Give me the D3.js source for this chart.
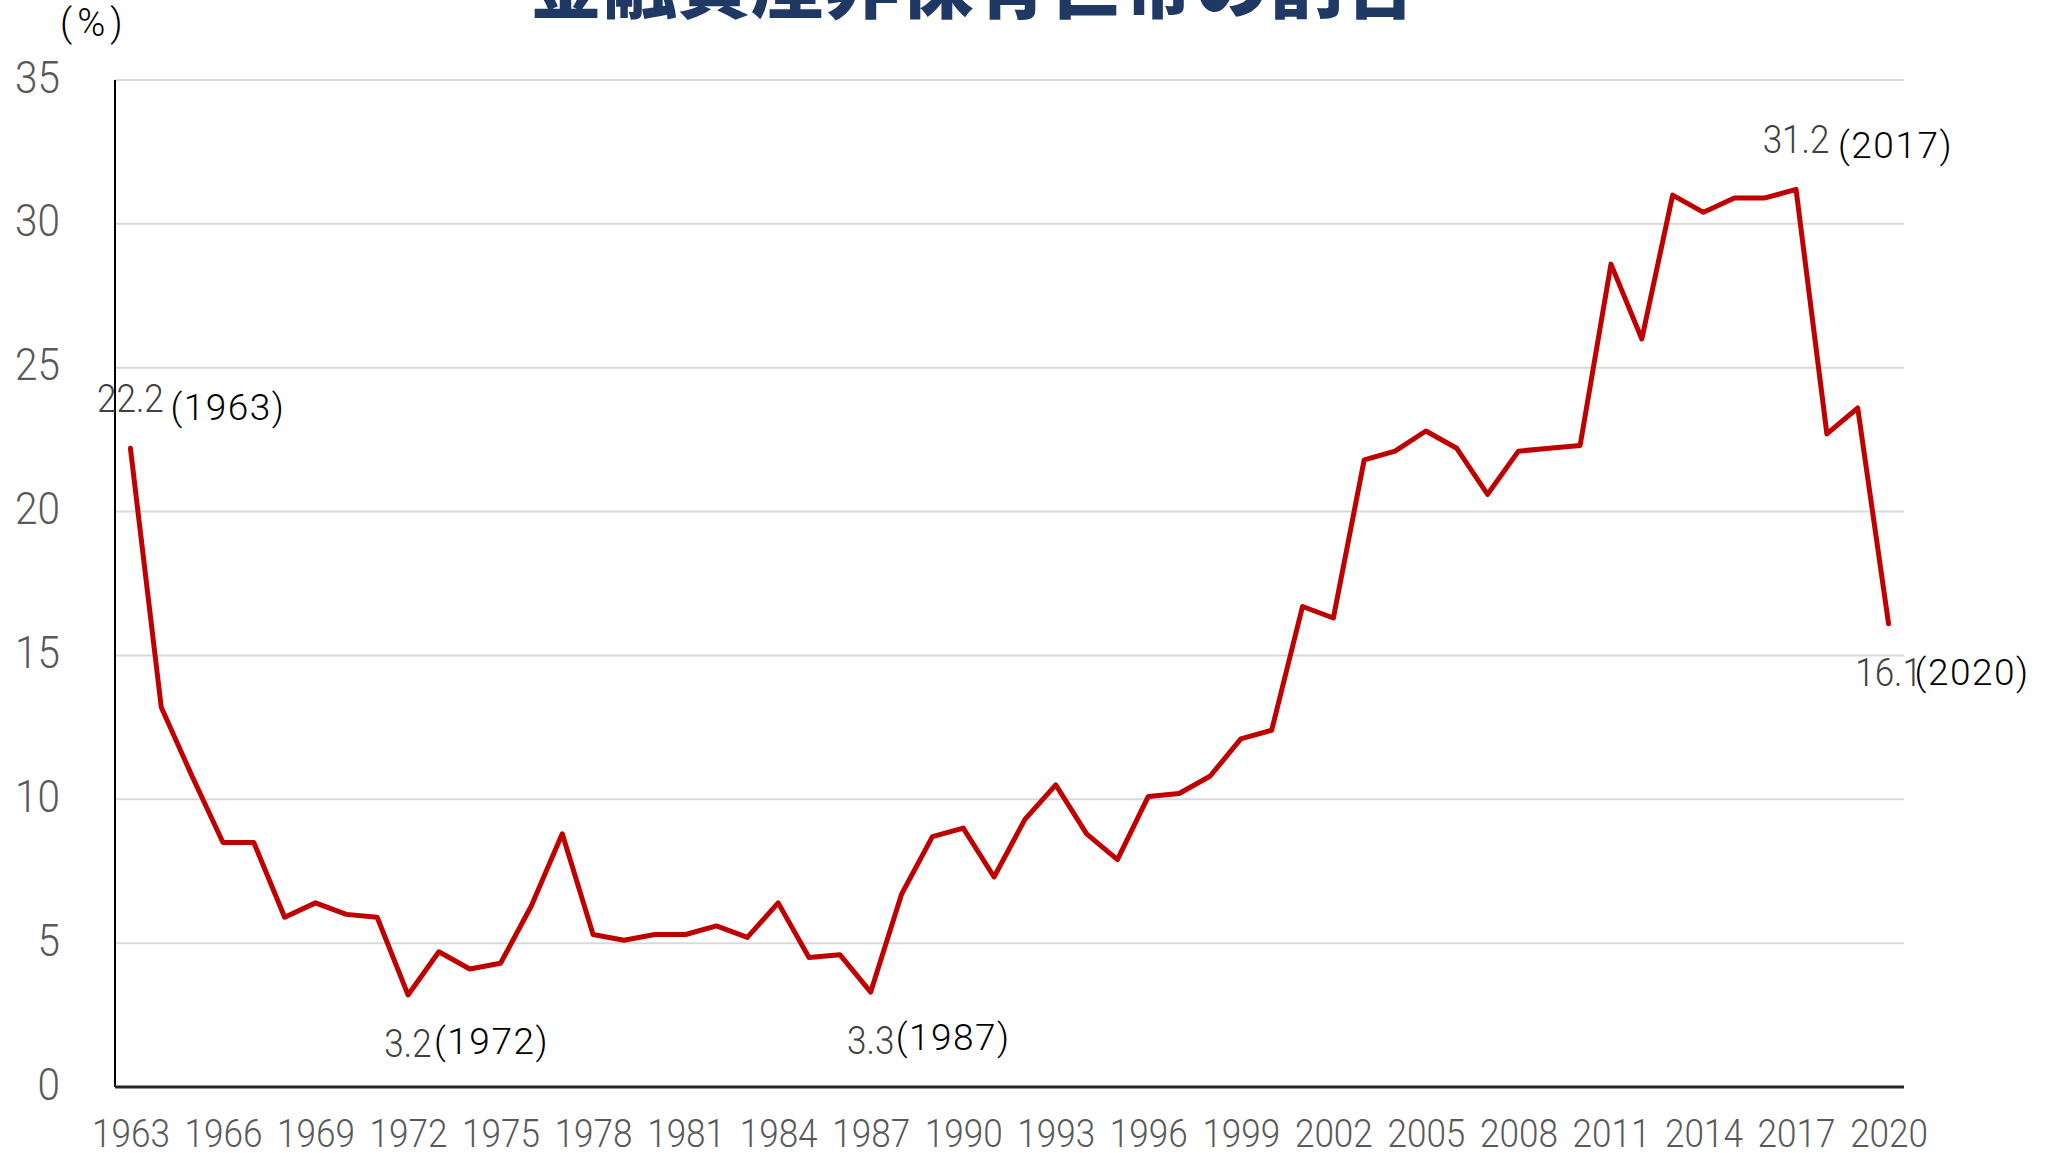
<!DOCTYPE html>
<html lang="ja">
<head>
<meta charset="utf-8">
<script src="https://cdn.jsdelivr.net/npm/d3@7"></script>
<style>
  body { margin: 0; background: #fff; }
  svg { display: block; }
</style>
</head>
<body>
<script>
// data (% of households holding no financial assets)
var years = [1963, 1964, 1965, 1966, 1967, 1968, 1969, 1970, 1971, 1972,
  1973, 1974, 1975, 1976, 1977, 1978, 1979, 1980, 1981, 1982,
  1983, 1984, 1985, 1986, 1987, 1988, 1989, 1990, 1991, 1992,
  1993, 1994, 1995, 1996, 1997, 1998, 1999, 2000, 2001, 2002,
  2003, 2004, 2005, 2006, 2007, 2008, 2009, 2010, 2011, 2012,
  2013, 2014, 2015, 2016, 2017, 2018, 2019, 2020];

var shares = [22.2, 13.2, 10.8, 8.5, 8.5, 5.9, 6.4, 6.0, 5.9, 3.2,
  4.7, 4.1, 4.3, 6.3, 8.8, 5.3, 5.1, 5.3, 5.3, 5.6,
  5.2, 6.4, 4.5, 4.6, 3.3, 6.7, 8.7, 9.0, 7.3, 9.3,
  10.5, 8.8, 7.9, 10.1, 10.2, 10.8, 12.1, 12.4, 16.7, 16.3,
  21.8, 22.1, 22.8, 22.2, 20.6, 22.1, 22.2, 22.3, 28.6, 26.0,
  31.0, 30.4, 30.9, 30.9, 31.2, 22.7, 23.6, 16.1];

var xTickYears = [1963, 1966, 1969, 1972, 1975, 1978, 1981, 1984, 1987, 1990,
  1993, 1996, 1999, 2002, 2005, 2008, 2011, 2014, 2017, 2020];
var yTicks = [0, 5, 10, 15, 20, 25, 30, 35];

// annotated points
var noteYears = [1963, 1972, 1987, 2017, 2020];

var titleText = "金融資産非保有世帯の割合";
var unitText = "(%)";

// chart dimensions
var svgWidth = 2052;
var svgHeight = 1153;
var margin = { top: 80, right: 148, bottom: 66, left: 115 };
var chartWidth = svgWidth - margin.left - margin.right;
var chartHeight = svgHeight - margin.top - margin.bottom;

var numFont = "Roboto, 'Noto Sans', sans-serif";
var squeeze = 0.9;

// label placement for each annotated point (above or below, and where the year goes)
var noteLayout = {
  1963: { below: false, dx: 40, dy: -28 },
  1972: { below: true, dx: 26, dy: 59 },
  1987: { below: true, dx: 25, dy: 58 },
  2017: { below: false, dx: 42, dy: -31 },
  2020: { below: true, dx: 26, dy: 61 }
};

var data = years.map(function(yr, i) { return { year: yr, value: shares[i] }; });

var svg = d3.select("body")
  .append("svg")
  .attr("width", svgWidth)
  .attr("height", svgHeight);

var chartGroup = svg.append("g")
  .attr("transform", `translate(${margin.left}, ${margin.top})`);

var xScale = d3.scalePoint()
  .domain(years)
  .range([0, chartWidth])
  .padding(0.5);

var yScale = d3.scaleLinear()
  .domain([0, 35])
  .range([chartHeight, 0]);

// gridlines
chartGroup.append("g")
  .selectAll("line")
  .data(yTicks.filter(function(t) { return t > 0; }))
  .enter()
  .append("line")
  .attr("x1", 0)
  .attr("x2", chartWidth)
  .attr("y1", d => yScale(d))
  .attr("y2", d => yScale(d))
  .attr("stroke", "#d9d9d9")
  .attr("stroke-width", 2);

// y axis
var yAxis = chartGroup.append("g")
  .call(d3.axisLeft(yScale).tickValues(yTicks).tickSize(0));
yAxis.select(".domain").remove();
yAxis.selectAll("text")
  .attr("x", 0)
  .attr("dy", null)
  .attr("transform", `translate(-55, 12) scale(${squeeze}, 1)`)
  .attr("text-anchor", "end")
  .attr("fill", "#595959")
  .style("font-family", numFont)
  .style("font-weight", 300)
  .style("font-size", "45px");

// x axis
var xAxis = chartGroup.append("g")
  .attr("transform", `translate(0, ${chartHeight})`)
  .call(d3.axisBottom(xScale).tickValues(xTickYears).tickSize(0));
xAxis.select(".domain").remove();
xAxis.selectAll("text")
  .attr("y", 0)
  .attr("dy", null)
  .attr("transform", `translate(0, 60) scale(${squeeze}, 1)`)
  .attr("fill", "#595959")
  .style("font-family", numFont)
  .style("font-weight", 300)
  .style("font-size", "39px");

// axis lines
chartGroup.append("line")
  .attr("x1", 0).attr("x2", 0)
  .attr("y1", 0).attr("y2", chartHeight)
  .attr("stroke", "#000")
  .attr("stroke-width", 2);

chartGroup.append("line")
  .attr("x1", 0).attr("x2", chartWidth)
  .attr("y1", chartHeight).attr("y2", chartHeight)
  .attr("stroke", "#262626")
  .attr("stroke-width", 3);

// the line
var line = d3.line()
  .x(d => xScale(d.year))
  .y(d => yScale(d.value));

chartGroup.append("path")
  .datum(data)
  .attr("d", line)
  .attr("fill", "none")
  .attr("stroke", "#c00000")
  .attr("stroke-width", 5)
  .attr("stroke-linejoin", "round")
  .attr("stroke-linecap", "round");

// value + year annotations
var notes = data.filter(function(d) { return noteYears.indexOf(d.year) >= 0; });

chartGroup.selectAll(".note-value")
  .data(notes)
  .enter()
  .append("text")
  .attr("class", "note-value")
  .attr("transform", function(d) {
    var lay = noteLayout[d.year];
    var ty = yScale(d.value) + (lay.below ? 62 : -36);
    return `translate(${xScale(d.year)}, ${ty}) scale(${squeeze}, 1)`;
  })
  .attr("text-anchor", "middle")
  .attr("fill", "#404040")
  .style("font-family", numFont)
  .style("font-weight", 300)
  .style("font-size", "39px")
  .text(d => d.value.toFixed(1));

chartGroup.selectAll(".note-year")
  .data(notes)
  .enter()
  .append("text")
  .attr("class", "note-year")
  .attr("x", d => xScale(d.year) + noteLayout[d.year].dx)
  .attr("y", d => yScale(d.value) + noteLayout[d.year].dy)
  .attr("fill", "#000")
  .style("font-family", numFont)
  .style("font-weight", 300)
  .style("font-size", "37px")
  .style("letter-spacing", "1.5px")
  .text(d => "(" + d.year + ")");

// unit label
svg.append("text")
  .attr("x", 60)
  .attr("y", 36)
  .attr("fill", "#000")
  .style("font-family", numFont)
  .style("font-weight", 300)
  .style("font-size", "38px")
  .style("letter-spacing", "5px")
  .text(unitText);

// title, cut off at the top as in the original
svg.append("text")
  .attr("x", 973)
  .attr("y", 12)
  .attr("text-anchor", "middle")
  .attr("fill", "#203864")
  .style("font-family", "'Noto Sans CJK JP', sans-serif")
  .style("font-weight", 900)
  .style("font-size", "74px")
  .text(titleText);
</script>
</body>
</html>
